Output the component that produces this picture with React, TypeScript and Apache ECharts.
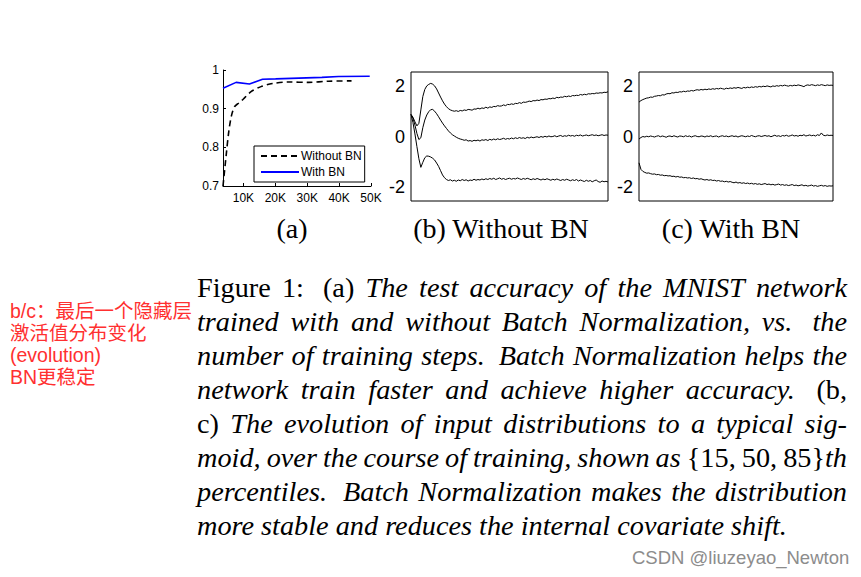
import React, { useEffect, useRef } from "react";
import * as echarts from "echarts";

// ---------- Panel (a): test accuracy vs training steps ----------
const stepsNoBN = [3600, 4600, 5400, 6200, 7200, 8600, 10000, 12400, 15500, 19100, 24300, 30500, 36700, 43900];
const accNoBN = [0.7, 0.78, 0.84, 0.88, 0.905, 0.915, 0.925, 0.944, 0.957, 0.965, 0.969, 0.968, 0.971, 0.972];
const stepsBN = [3600, 7700, 11900, 16000, 20100, 27400, 34600, 39800, 49600];
const accBN = [0.953, 0.968, 0.964, 0.976, 0.977, 0.979, 0.981, 0.983, 0.984];
const xTicksA = [10000, 20000, 30000, 40000, 50000];
const yTicksA = [0.7, 0.8, 0.9, 1];
const legendNames = ["Without BN", "With BN"];

// ---------- Panels (b), (c): {15,50,85}th percentiles ----------
const yTicksBC = [-2, 0, 2];
const woP85 = [0.87,0.76,0.58,0.42,0.52,1.05,1.58,1.86,2.00,2.06,2.10,2.07,2.00,1.88,1.72,1.56,1.41,1.28,1.18,1.10,1.05,1.02,1.00,1.02,0.99,1.03,1.01,1.05,1.03,1.07,1.06,1.04,1.09,1.08,1.12,1.09,1.13,1.11,1.16,1.12,1.17,1.15,1.19,1.18,1.22,1.20,1.21,1.25,1.22,1.27,1.26,1.29,1.27,1.31,1.30,1.34,1.31,1.36,1.35,1.37,1.40,1.38,1.42,1.41,1.44,1.42,1.46,1.45,1.48,1.47,1.50,1.49,1.52,1.50,1.55,1.53,1.56,1.55,1.59,1.57,1.60,1.58,1.62,1.61,1.63,1.62,1.66,1.64,1.67,1.65,1.69,1.68,1.70,1.69,1.72,1.71,1.73,1.72,1.75,1.74,1.77];
const woP50 = [0.87,0.72,0.45,0.12,-0.12,-0.05,0.35,0.65,0.85,0.98,1.06,1.07,1.00,0.90,0.78,0.65,0.53,0.42,0.32,0.22,0.14,0.07,0.02,-0.03,-0.07,-0.10,-0.12,-0.15,-0.13,-0.18,-0.16,-0.19,-0.15,-0.17,-0.14,-0.18,-0.13,-0.15,-0.12,-0.16,-0.11,-0.14,-0.10,-0.13,-0.09,-0.12,-0.10,-0.07,-0.11,-0.08,-0.10,-0.06,-0.09,-0.05,-0.08,-0.04,-0.07,-0.05,-0.08,-0.03,-0.06,-0.02,-0.05,-0.03,-0.01,-0.04,0.00,-0.03,0.01,-0.02,0.02,-0.01,0.00,0.03,-0.01,0.02,0.04,0.00,0.03,0.01,0.05,0.02,0.04,0.01,0.05,0.03,0.06,0.02,0.04,0.06,0.03,0.05,0.07,0.04,0.06,0.03,0.05,0.07,0.04,0.06,0.05];
const woP15 = [0.87,0.55,0.10,-0.40,-0.88,-1.22,-1.02,-0.84,-0.77,-0.78,-0.81,-0.86,-0.93,-1.05,-1.18,-1.35,-1.52,-1.63,-1.70,-1.74,-1.71,-1.76,-1.73,-1.77,-1.72,-1.75,-1.70,-1.74,-1.71,-1.76,-1.72,-1.74,-1.69,-1.73,-1.70,-1.72,-1.68,-1.71,-1.67,-1.70,-1.66,-1.69,-1.65,-1.70,-1.67,-1.64,-1.69,-1.66,-1.70,-1.67,-1.65,-1.69,-1.66,-1.68,-1.64,-1.67,-1.70,-1.66,-1.69,-1.65,-1.68,-1.71,-1.67,-1.70,-1.66,-1.69,-1.72,-1.68,-1.71,-1.67,-1.70,-1.73,-1.69,-1.72,-1.68,-1.71,-1.74,-1.70,-1.73,-1.69,-1.72,-1.75,-1.71,-1.74,-1.70,-1.76,-1.72,-1.75,-1.78,-1.73,-1.77,-1.74,-1.79,-1.75,-1.72,-1.78,-1.81,-1.76,-1.79,-1.77,-1.80];
const bnP85 = [1.36,1.42,1.46,1.49,1.52,1.53,1.56,1.55,1.59,1.60,1.62,1.61,1.65,1.64,1.68,1.70,1.69,1.73,1.72,1.75,1.74,1.77,1.76,1.79,1.77,1.80,1.79,1.82,1.80,1.83,1.85,1.83,1.86,1.84,1.87,1.85,1.88,1.86,1.89,1.87,1.90,1.88,1.91,1.89,1.87,1.91,1.89,1.92,1.90,1.93,1.91,1.94,1.92,1.90,1.94,1.92,1.95,1.93,1.96,1.94,1.97,1.95,1.98,1.96,1.99,1.97,2.00,1.98,1.96,2.00,1.98,2.01,1.99,2.02,2.00,2.03,2.01,1.99,2.02,2.00,2.03,2.01,2.04,2.02,2.00,1.97,2.02,2.04,2.02,2.05,2.03,2.01,2.04,2.02,2.05,2.03,2.01,2.04,2.02,2.03,2.02];
const bnP50 = [-0.10,-0.04,0.00,-0.02,0.01,-0.01,0.02,0.00,-0.02,0.01,0.03,-0.01,0.02,0.00,-0.03,0.01,0.02,-0.01,0.03,0.00,-0.02,0.02,0.01,-0.01,0.03,0.00,0.02,-0.02,0.01,0.03,0.00,-0.01,0.02,0.01,-0.02,0.02,0.00,0.03,-0.01,0.01,0.02,-0.02,0.01,0.03,0.00,0.02,-0.01,0.01,0.03,0.00,0.02,-0.02,0.01,0.03,0.01,-0.01,0.02,0.00,0.04,0.01,-0.01,0.02,0.03,0.00,0.02,0.04,0.01,0.03,-0.01,0.02,0.05,0.01,0.03,0.00,0.04,0.02,0.05,0.01,0.03,0.06,0.02,0.04,0.01,0.05,0.03,0.07,0.02,0.04,0.06,0.03,0.05,0.02,0.07,0.04,0.14,0.05,0.03,0.06,0.04,0.05,0.04];
const bnP15 = [-1.04,-1.30,-1.38,-1.42,-1.45,-1.44,-1.47,-1.49,-1.48,-1.51,-1.50,-1.53,-1.52,-1.55,-1.54,-1.56,-1.55,-1.58,-1.57,-1.60,-1.58,-1.61,-1.60,-1.63,-1.62,-1.64,-1.63,-1.66,-1.64,-1.67,-1.66,-1.69,-1.67,-1.70,-1.72,-1.70,-1.73,-1.71,-1.74,-1.73,-1.76,-1.74,-1.77,-1.76,-1.79,-1.77,-1.80,-1.78,-1.81,-1.83,-1.80,-1.84,-1.82,-1.85,-1.83,-1.86,-1.84,-1.87,-1.85,-1.88,-1.86,-1.89,-1.87,-1.90,-1.88,-1.86,-1.90,-1.88,-1.91,-1.89,-1.92,-1.90,-1.88,-1.92,-1.90,-1.93,-1.91,-1.94,-1.92,-1.90,-1.94,-1.92,-1.95,-1.93,-1.91,-1.95,-1.93,-1.96,-1.94,-1.92,-1.96,-1.94,-1.97,-1.95,-1.93,-1.96,-1.94,-1.97,-1.95,-1.96,-1.95];

// ---------- Texts ----------
const subtitles = ["(a)", "(b) Without BN", "(c) With BN"];
const captionLines: [string, string][][] = [
  [["rm", "Figure 1:  (a) "], ["it", "The test accuracy of the MNIST network"]],
  [["it", "trained with and without Batch Normalization, vs.  the"]],
  [["it", "number of training steps.  Batch Normalization helps the"]],
  [["it", "network train faster and achieve higher accuracy."], ["rm", "  (b,"]],
  [["rm", "c) "], ["it", "The evolution of input distributions to a typical sig-"]],
  [["it", "moid, over the course of training, shown as "], ["rm", "{15, 50, 85}"], ["it", "th"]],
  [["it", "percentiles.  Batch Normalization makes the distribution"]],
  [["it", "more stable and reduces the internal covariate shift."]],
];
const noteLines = ["b/c：最后一个隐藏层", "激活值分布变化", "(evolution)", "BN更稳定"];
const watermark = "CSDN @liuzeyao_Newton";

const SERIF = '"Liberation Serif", "Times New Roman", serif';
const SANS = '"Liberation Sans", Arial, sans-serif';

type Piece = { t: string; it: boolean };
type Word = { pieces: Piece[]; spaces: number };

function tokenize(line: [string, string][]): Word[] {
  const words: Word[] = [];
  let cur: Piece[] = [];
  for (const [kind, text] of line) {
    const it = kind === "it";
    let buf = "";
    for (const ch of text) {
      if (ch === " ") {
        if (buf) { cur.push({ t: buf, it }); buf = ""; }
        if (cur.length) { words.push({ pieces: cur, spaces: 1 }); cur = []; }
        else if (words.length) words[words.length - 1].spaces++;
      } else buf += ch;
    }
    if (buf) cur.push({ t: buf, it });
  }
  if (cur.length) words.push({ pieces: cur, spaces: 0 });
  return words;
}

function buildCaption(): any[] {
  const ctx = document.createElement("canvas").getContext("2d")!;
  const measure = (t: string, it: boolean, size: number) => {
    ctx.font = `${it ? "italic " : ""}${size}px "Liberation Serif"`;
    return ctx.measureText(t).width;
  };
  const left = 197, right = 847, base0 = 297, lh = 34;
  const lastWords = tokenize(captionLines[captionLines.length - 1]);
  let nat = 0;
  lastWords.forEach((w, i) => {
    w.pieces.forEach((p) => (nat += measure(p.t, p.it, 28)));
    if (i < lastWords.length - 1) nat += measure(" ", true, 28);
  });
  const size = Math.max(22, Math.min(32, (28 * 590) / nat));
  const els: any[] = [];
  captionLines.forEach((line, li) => {
    const words = tokenize(line);
    const widths = words.map((w) => w.pieces.reduce((s, p) => s + measure(p.t, p.it, size), 0));
    const sumW = widths.reduce((a, b) => a + b, 0);
    const weights = words.slice(0, -1).map((w) => (w.spaces >= 2 ? 1.7 : 1));
    const totW = weights.reduce((a, b) => a + b, 0);
    const isLast = li === captionLines.length - 1;
    const unit = isLast ? measure(" ", true, size) : (right - left - sumW) / totW;
    let x = left;
    const y = base0 + li * lh - 0.3375 * size;
    words.forEach((w, wi) => {
      w.pieces.forEach((p) => {
        els.push({
          type: "text",
          x,
          y,
          silent: true,
          style: {
            text: p.t,
            fontSize: size,
            fontFamily: SERIF,
            fontStyle: p.it ? "italic" : "normal",
            fill: "#000",
            textAlign: "left",
            textVerticalAlign: "middle",
          },
        });
        x += measure(p.t, p.it, size);
      });
      if (wi < weights.length) x += unit * weights[wi];
    });
  });
  return els;
}

const idx = (arr: number[]) => arr.map((v, i) => [i, v]);

export default function App() {
  const ref = useRef<HTMLDivElement>(null);
  useEffect(() => {
    if (!ref.current) return;
    const chart = echarts.init(ref.current, undefined, { renderer: "svg" });
    const bcY = (gi: number) => ({
      type: "value",
      gridIndex: gi,
      min: -2.55,
      max: 2.55,
      axisLine: { show: false },
      axisTick: { show: false },
      splitLine: { show: false },
      axisLabel: {
        customValues: yTicksBC,
        fontSize: 18,
        fontFamily: SANS,
        color: "#000",
        margin: 6,
        formatter: (v: number) => String(v),
      },
    });
    const bcX = (gi: number) => ({
      type: "value",
      gridIndex: gi,
      min: 0,
      max: 100,
      axisLine: { show: false },
      axisTick: { show: false },
      axisLabel: { show: false },
      splitLine: { show: false },
    });
    const thin = (name: string, data: number[], gi: number) => ({
      name,
      type: "line",
      xAxisIndex: gi,
      yAxisIndex: gi,
      data: idx(data),
      showSymbol: false,
      symbol: "none",
      lineStyle: { color: "#000", width: 1 },
      silent: true,
    });
    const subs = [292, 501, 731].map((cx, i) => ({
      type: "text",
      x: cx,
      y: 228,
      style: {
        text: subtitles[i],
        fontSize: 28,
        fontFamily: SERIF,
        fill: "#000",
        textAlign: "center",
        textVerticalAlign: "middle",
      },
    }));
    const notes = noteLines.map((t, i) => ({
      type: "text",
      x: 10,
      y: 311 + i * 22,
      style: {
        text: t,
        fontSize: 19.5,
        lineHeight: 20,
        fontFamily: '"Liberation Sans", "Noto Sans CJK SC", sans-serif',
        fill: "#ff3030",
        textAlign: "left",
        textVerticalAlign: "middle",
      },
    }));
    chart.setOption({
      animation: false,
      backgroundColor: "#fff",
      grid: [
        { left: 223, top: 70, width: 148, height: 116 },
        { left: 411, top: 72, width: 197, height: 129, show: true, borderColor: "#000", borderWidth: 1 },
        { left: 639, top: 72, width: 194, height: 129, show: true, borderColor: "#000", borderWidth: 1 },
      ],
      legend: {
        data: legendNames,
        left: 254,
        top: 146,
        orient: "vertical",
        borderColor: "#000",
        borderWidth: 1,
        padding: [4, 3, 4, 6],
        itemWidth: 38,
        itemHeight: 10,
        itemGap: 4,
        itemStyle: { opacity: 0 },
        textStyle: { fontSize: 12, fontFamily: SANS, color: "#000", padding: [0, 0, 0, -3] },
        backgroundColor: "#fff",
      },
      xAxis: [
        {
          type: "value",
          gridIndex: 0,
          min: 3600,
          max: 50000,
          axisLine: { show: true, lineStyle: { color: "#000", width: 1 } },
          axisTick: { show: true, inside: true, length: 3, customValues: xTicksA, lineStyle: { color: "#000" } },
          splitLine: { show: false },
          axisLabel: {
            customValues: xTicksA,
            fontSize: 12,
            fontFamily: SANS,
            color: "#000",
            margin: 6,
            formatter: (v: number) => `${v / 1000}K`,
          },
        },
        bcX(1),
        bcX(2),
      ],
      yAxis: [
        {
          type: "value",
          gridIndex: 0,
          min: 0.7,
          max: 1,
          axisLine: { show: true, lineStyle: { color: "#000", width: 1 } },
          axisTick: { show: true, inside: true, length: 3, customValues: yTicksA, lineStyle: { color: "#000" } },
          splitLine: { show: false },
          axisLabel: {
            customValues: yTicksA,
            fontSize: 12,
            fontFamily: SANS,
            color: "#000",
            margin: 4,
            formatter: (v: number) => (v === 1 ? "1" : v.toFixed(1)),
          },
        },
        bcY(1),
        bcY(2),
      ],
      series: [
        {
          name: legendNames[0],
          type: "line",
          xAxisIndex: 0,
          yAxisIndex: 0,
          data: stepsNoBN.map((s, i) => [s, accNoBN[i]]),
          showSymbol: false,
          symbol: "none",
          smooth: 0.3,
          lineStyle: { color: "#000", width: 1.6, type: [6, 4] },
          itemStyle: { color: "#000" },
        },
        {
          name: legendNames[1],
          type: "line",
          xAxisIndex: 0,
          yAxisIndex: 0,
          data: stepsBN.map((s, i) => [s, accBN[i]]),
          showSymbol: false,
          symbol: "none",
          lineStyle: { color: "#0000ff", width: 1.6 },
          itemStyle: { color: "#0000ff" },
        },
        thin("wo85", woP85, 1),
        thin("wo50", woP50, 1),
        thin("wo15", woP15, 1),
        thin("bn85", bnP85, 2),
        thin("bn50", bnP50, 2),
        thin("bn15", bnP15, 2),
      ],
      graphic: [
        ...subs,
        ...buildCaption(),
        ...notes,
        {
          type: "text",
          x: 632,
          y: 557,
          style: {
            text: watermark,
            fontSize: 18.5,
            fontFamily: SANS,
            fill: "#8c8c8c",
            textAlign: "left",
            textVerticalAlign: "middle",
          },
        },
      ],
    });
    return () => chart.dispose();
  }, []);
  return (
    <div
      ref={ref}
      style={{ position: "fixed", left: 0, top: 0, width: 861, height: 577, background: "#fff" }}
    />
  );
}
